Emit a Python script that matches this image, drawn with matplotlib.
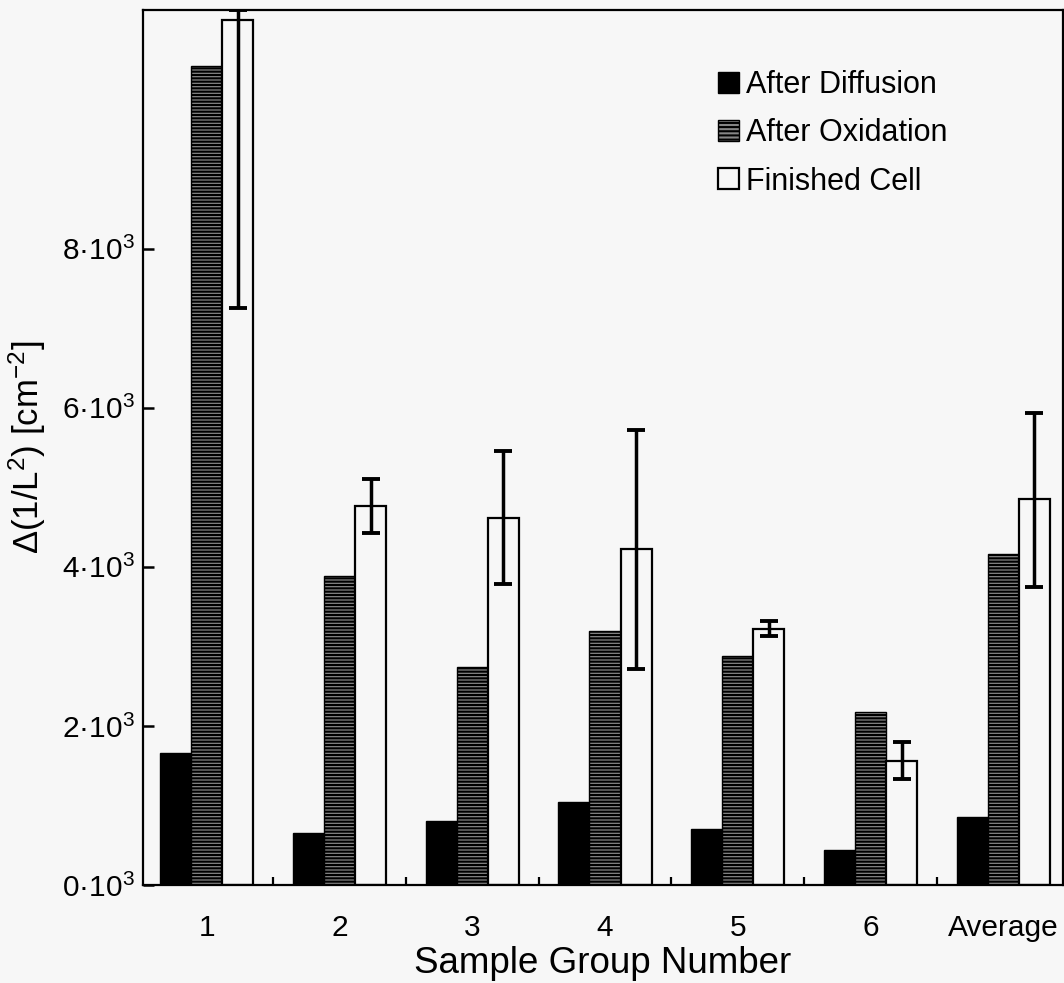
import matplotlib
matplotlib.use("Agg")
import matplotlib.pyplot as plt
import numpy as np
from matplotlib.patches import Patch
from matplotlib.ticker import FixedLocator

groups = ['1', '2', '3', '4', '5', '6', 'Average']
after_diffusion = [1660, 650, 800, 1040, 700, 440, 855]
after_oxidation = [10300, 3890, 2740, 3190, 2880, 2170, 4160]
finished_cell = [10880, 4760, 4620, 4220, 3215, 1560, 4850]
err_lower = [3620, 340, 830, 1500, 90, 230, 1100]
err_upper = [120, 340, 830, 1500, 100, 235, 1090]
yticks = [0, 2000, 4000, 6000, 8000]
ytick_labels = ['0·10$^3$', '2·10$^3$', '4·10$^3$', '6·10$^3$', '8·10$^3$']

plt.rcParams['font.family'] = ['Liberation Sans', 'DejaVu Sans']
plt.rcParams['mathtext.fontset'] = 'custom'
plt.rcParams['mathtext.rm'] = 'Liberation Sans'
plt.rcParams['mathtext.it'] = 'Liberation Sans:italic'
plt.rcParams['mathtext.bf'] = 'Liberation Sans:bold'
plt.rcParams['hatch.linewidth'] = 1.5

bg = '#f7f7f7'
gray = '#858585'
fig = plt.figure(figsize=(10.64, 9.83), dpi=100, facecolor=bg)
ax = fig.add_axes([143/1064, 1-885/983, (1063-143)/1064, (885-10)/983])
ax.set_facecolor(bg)

x = np.arange(len(groups))
w = 0.234
ax.bar(x - w, after_diffusion, w, color='black', edgecolor='black', linewidth=1.0)
ax.bar(x, after_oxidation, w, color=gray, edgecolor='black', hatch='-----', linewidth=1.0)
ax.bar(x + w, finished_cell, w, color=bg, edgecolor='black', linewidth=1.6)
ax.errorbar(x + w, finished_cell, yerr=[err_lower, err_upper], fmt='none',
            ecolor='black', elinewidth=2.5, capsize=6.8, capthick=2.8)

ax.set_xlim(-0.48, 6.45)
ax.set_ylim(0, 11000)

for s in ax.spines.values():
    s.set_linewidth(1.6)

ax.set_yticks(yticks)
ax.set_yticklabels(ytick_labels, fontsize=21.5)
ax.tick_params(axis='y', direction='in', length=8, width=1.8, pad=6, right=False)

ax.set_xticks(x)
ax.set_xticklabels(groups, fontsize=21.5)
ax.tick_params(axis='x', which='major', length=0, pad=21)
ax.xaxis.set_minor_locator(FixedLocator(x[:-1] + 0.5))
ax.tick_params(axis='x', which='minor', direction='in', length=6, width=1.6, top=False)

ax.set_xlabel('Sample Group Number', fontsize=26.5, labelpad=3)
ax.set_ylabel('Δ(1/L$^2$) [cm$^{-2}$]', fontsize=25, labelpad=10)

handles = [
    Patch(facecolor='black', edgecolor='black'),
    Patch(facecolor=gray, edgecolor='black', hatch='----'),
    Patch(facecolor=bg, edgecolor='black', linewidth=1.6),
]
labels = ['After Diffusion', 'After Oxidation', 'Finished Cell']
fig.legend(handles, labels, loc='upper left', bbox_to_anchor=(718/1064, 1-70/983),
           frameon=False, fontsize=22, handlelength=0.68, handleheight=0.68,
           handletextpad=0.25, labelspacing=0.6, borderpad=0, borderaxespad=0)

fig.savefig('out.png', dpi=100, facecolor=bg)
